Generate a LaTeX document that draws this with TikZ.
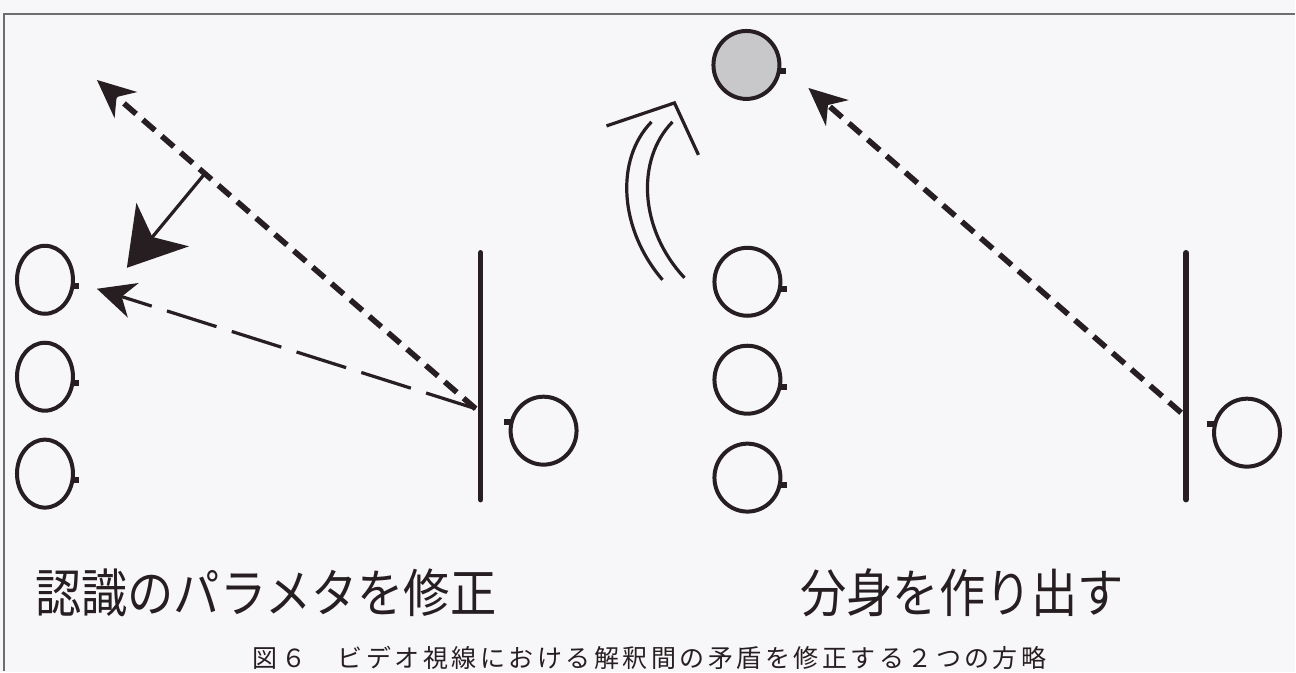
\documentclass[tikz,border=0pt]{standalone}
\usepackage{fontspec}
\newfontfamily\jp{Noto Sans CJK JP}
\newfontfamily\jpcap[LetterSpace=14]{Noto Sans CJK JP}
\usetikzlibrary{arrows.meta,shapes.geometric,calc}
\definecolor{ink}{RGB}{38,30,32}
\definecolor{paper}{RGB}{247,246,248}
\definecolor{framec}{RGB}{110,108,112}
\definecolor{shade}{RGB}{200,200,202}
\begin{document}
\begin{tikzpicture}[x=0.5pt,y=-0.5pt,
  person/.style={draw=ink, line width=2pt, ellipse, inner sep=0pt, minimum width=28pt, minimum height=34pt},
  personR/.style={person, minimum width=33pt},
  nose/.style={draw=ink, line width=3pt},
  screen/.style={draw=ink, line width=2.8pt, line cap=round},
  gazeshort/.style={draw=ink, line width=2.8pt, dash pattern=on 8pt off 4.5pt, -{Stealth[length=19pt,width=17pt,inset=6pt]}},
  gazelong/.style={draw=ink, line width=1.6pt, dash pattern=on 26pt off 8pt, -{Stealth[length=19pt,width=18pt,inset=6pt]}},
  corr/.style={draw=ink, line width=1.6pt, -{Stealth[length=28pt,width=34pt,inset=8pt]}},
  dbl/.style={draw=ink, line width=1.6pt},
  bigtext/.style={font=\jp\fontsize{26pt}{26pt}\selectfont, text=ink, inner sep=0pt, xscale=0.89},
  captext/.style={font=\jpcap\fontsize{12.5pt}{12.5pt}\selectfont, text=ink, inner sep=0pt}
]
\fill[paper] (0,0) rectangle (1296,673);
\draw[framec, line width=1pt] (4,672) -- (4,14) -- (1296,14);

% left panel
\node[person] (L1) at (45,280) {};
\node[person] (L2) at (45,377) {};
\node[person] (L3) at (45,474) {};
\node[personR] (LS) at (544,431) {};
\draw[nose] ($(L1.-12)+(-2,0)$) -- ++(7,0);
\draw[nose] ($(L2.-12)+(-2,0)$) -- ++(7,0);
\draw[nose] ($(L3.-12)+(-2,0)$) -- ++(7,0);
\draw[nose] ($(LS.165)+(2,0)$) -- ++(-8,0);
\draw[screen] (481,253) -- (481,500);
\coordinate (ls) at (476,409);
\coordinate (ltip) at (97,80);
\coordinate (lptip) at (97,289);
\draw[gazeshort] (ls) -- (ltip);
\draw[gazelong] (ls) -- (lptip);
\coordinate (lj) at ($(ls)!0.715!(ltip)$);
\coordinate (ctip) at (127,268);
\draw[corr] (lj) -- (ctip);

% right panel
\node[personR, fill=shade] (G) at (747,65) {};
\node[personR] (R1) at (748,282) {};
\node[personR] (R2) at (748,380) {};
\node[personR] (R3) at (748,478) {};
\node[personR] (RS) at (1248,433) {};
\draw[nose] ($(G.-10)+(-2,0)$) -- ++(7,0);
\draw[nose] ($(R1.-12)+(-2,0)$) -- ++(7,0);
\draw[nose] ($(R2.-12)+(-2,0)$) -- ++(7,0);
\draw[nose] ($(R3.-12)+(-2,0)$) -- ++(7,0);
\draw[nose] ($(RS.165)+(2,0)$) -- ++(-8,0);
\draw[screen] (1187,253) -- (1187,500);
\coordinate (rs) at (1182,413);
\coordinate (rtip) at (809,88);
\draw[gazeshort] (rs) -- (rtip);

% split arrow
\draw[dbl] (663,280) .. controls (620,230) and (615,160) .. (652,122);
\draw[dbl] (685,278) .. controls (640,230) and (636,160) .. (673,122);
\draw[dbl] (607,126) -- (675,103) -- (699,155);

% texts
\node[bigtext] (t1) at (266,593) {認識のパラメタを修正};
\node[bigtext] (t2) at (963,593) {分身を作り出す};
\node[captext] (cap) at (650,658) {図６　ビデオ視線における解釈間の矛盾を修正する２つの方略};
\end{tikzpicture}
\end{document}
